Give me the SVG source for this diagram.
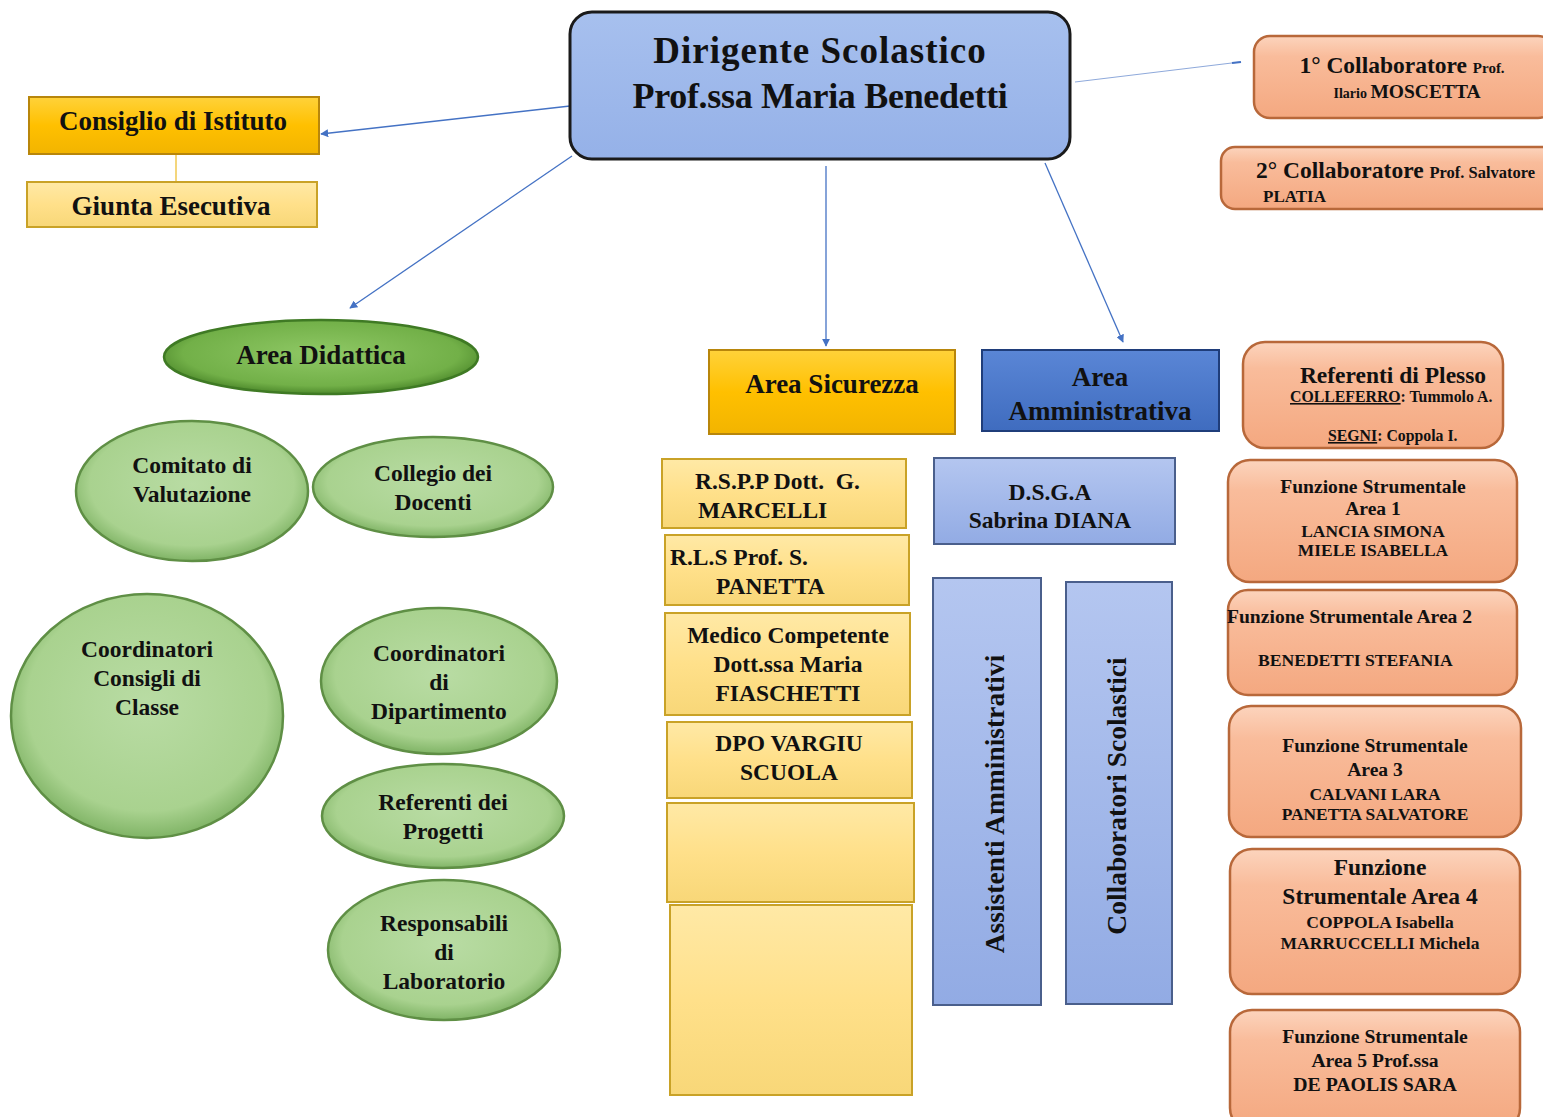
<svg xmlns="http://www.w3.org/2000/svg" width="1543" height="1117" viewBox="0 0 1543 1117" font-family="'Liberation Serif', 'DejaVu Serif', serif" font-weight="bold">
<defs>
<style>
text{font-family:'Liberation Serif','DejaVu Serif',serif;font-weight:700;fill:#111;}
.c{text-anchor:middle;}
.conn{stroke:#4472c4;stroke-width:1.3;fill:none;marker-end:url(#ah);}
.gold{fill:url(#gGold);stroke:#b8860b;stroke-width:2;}
.lgold{fill:url(#gLGold);stroke:#c9a227;stroke-width:2;}
.blue{fill:url(#gBlue);stroke:#1f3d7a;stroke-width:2;}
.lblue{fill:url(#gLBlue);stroke:#4a5f8c;stroke-width:2;}
.org{fill:url(#gOrg);stroke:#b8683a;stroke-width:2.5;}
.lgreen{fill:url(#gLGreen);stroke:#5f8f45;stroke-width:2.5;}
.green{fill:url(#gGreen);stroke:#3f7a24;stroke-width:2.5;}
</style>
<marker id="ah" viewBox="0 0 10 10" refX="9" refY="5" markerWidth="8" markerHeight="8" orient="auto" markerUnits="userSpaceOnUse"><path d="M0,0 L10,5 L0,10 z" fill="#4472c4"/></marker>
<linearGradient id="gGold" x1="0" y1="0" x2="0" y2="1"><stop offset="0" stop-color="#ffd23a"/><stop offset="0.5" stop-color="#ffc000"/><stop offset="1" stop-color="#f2b400"/></linearGradient>
<linearGradient id="gLGold" x1="0" y1="0" x2="0" y2="1"><stop offset="0" stop-color="#ffe9a6"/><stop offset="0.5" stop-color="#ffe08a"/><stop offset="1" stop-color="#f8d778"/></linearGradient>
<linearGradient id="gBlue" x1="0" y1="0" x2="0" y2="1"><stop offset="0" stop-color="#5a86d6"/><stop offset="1" stop-color="#3f6cbf"/></linearGradient>
<linearGradient id="gLBlue" x1="0" y1="0" x2="0" y2="1"><stop offset="0" stop-color="#b4c6f0"/><stop offset="1" stop-color="#92abe4"/></linearGradient>
<linearGradient id="gDir" x1="0" y1="0" x2="0" y2="1"><stop offset="0" stop-color="#a7c0ee"/><stop offset="1" stop-color="#95b1e8"/></linearGradient>
<linearGradient id="gOrg" x1="0" y1="0" x2="0" y2="1"><stop offset="0" stop-color="#fcd4bd"/><stop offset="0.25" stop-color="#f9bc9b"/><stop offset="1" stop-color="#f4a880"/></linearGradient>
<radialGradient id="gLGreen" cx="0.5" cy="0.45" r="0.55"><stop offset="0" stop-color="#b9dca4"/><stop offset="0.8" stop-color="#a9d28f"/><stop offset="1" stop-color="#80b466"/></radialGradient>
<radialGradient id="gGreen" cx="0.5" cy="0.45" r="0.55"><stop offset="0" stop-color="#8fc865"/><stop offset="0.8" stop-color="#72b048"/><stop offset="1" stop-color="#4e8a2c"/></radialGradient>
</defs>
<rect width="1543" height="1117" fill="#ffffff"/>

<g id="connectors">
<path class="conn" d="M570,106 L321,134"/>
<path class="conn" d="M572,156 L350,308"/>
<path class="conn" d="M826,166 L826,346"/>
<path class="conn" d="M1045,163 L1123,342"/>
<path d="M1075,82 L1240,62" stroke="#8ea9db" stroke-width="1" fill="none"/>
<path d="M1232,63 L1241,62" stroke="#4472c4" stroke-width="2"/>
<path d="M176,154 L176,182" stroke="#f0c850" stroke-width="1.5"/>
</g>

<g id="dirigente">
<rect x="570" y="12" width="500" height="147" rx="22" fill="url(#gDir)" stroke="#1a1a1a" stroke-width="3"/>
<text class="c" x="820" y="63" font-size="37" letter-spacing="1">Dirigente Scolastico</text>
<text class="c" x="820" y="108" font-size="36" letter-spacing="-0.3">Prof.ssa Maria Benedetti</text>
</g>

<g id="consiglio">
<rect class="gold" x="29" y="97" width="290" height="57"/>
<text class="c" x="173" y="130" font-size="27">Consiglio di Istituto</text>
</g>
<g id="giunta">
<rect class="lgold" x="27" y="182" width="290" height="45"/>
<text class="c" x="171" y="215" font-size="27">Giunta Esecutiva</text>
</g>

<g id="area-didattica">
<ellipse class="green" cx="321" cy="357" rx="157" ry="37"/>
<text class="c" x="321" y="364" font-size="27">Area Didattica</text>
</g>
<g id="comitato">
<ellipse class="lgreen" cx="192" cy="491" rx="116" ry="70"/>
<text class="c" x="192" y="473" font-size="23.5">Comitato di</text>
<text class="c" x="192" y="502" font-size="23.5">Valutazione</text>
</g>
<g id="collegio">
<ellipse class="lgreen" cx="433" cy="487" rx="120" ry="50"/>
<text class="c" x="433" y="481" font-size="23.5">Collegio dei</text>
<text class="c" x="433" y="510" font-size="23.5">Docenti</text>
</g>
<g id="coord-classe">
<ellipse class="lgreen" cx="147" cy="716" rx="136" ry="122"/>
<text class="c" x="147" y="657" font-size="23.5">Coordinatori</text>
<text class="c" x="147" y="686" font-size="23.5">Consigli di</text>
<text class="c" x="147" y="715" font-size="23.5">Classe</text>
</g>
<g id="coord-dip">
<ellipse class="lgreen" cx="439" cy="681" rx="118" ry="73"/>
<text class="c" x="439" y="661" font-size="23.5">Coordinatori</text>
<text class="c" x="439" y="690" font-size="23.5">di</text>
<text class="c" x="439" y="719" font-size="23.5">Dipartimento</text>
</g>
<g id="referenti-progetti">
<ellipse class="lgreen" cx="443" cy="816" rx="121" ry="52"/>
<text class="c" x="443" y="810" font-size="23.5">Referenti dei</text>
<text class="c" x="443" y="839" font-size="23.5">Progetti</text>
</g>
<g id="responsabili">
<ellipse class="lgreen" cx="444" cy="950" rx="116" ry="70"/>
<text class="c" x="444" y="931" font-size="23.5">Responsabili</text>
<text class="c" x="444" y="960" font-size="23.5">di</text>
<text class="c" x="444" y="989" font-size="23.5">Laboratorio</text>
</g>

<g id="area-sicurezza">
<rect class="gold" x="709" y="350" width="246" height="84"/>
<text class="c" x="832" y="393" font-size="27">Area Sicurezza</text>
</g>
<g id="rspp">
<rect class="lgold" x="662" y="459" width="244" height="69"/>
<text x="695" y="489" font-size="23.5" xml:space="preserve">R.S.P.P Dott.  G.</text>
<text x="698" y="518" font-size="23.5">MARCELLI</text>
</g>
<g id="rls">
<rect class="lgold" x="665" y="535" width="244" height="70"/>
<text x="670" y="565" font-size="23.5">R.L.S Prof. S.</text>
<text x="716" y="594" font-size="23.5">PANETTA</text>
</g>
<g id="medico">
<rect class="lgold" x="665" y="613" width="245" height="102"/>
<text class="c" x="788" y="643" font-size="23.5">Medico Competente</text>
<text class="c" x="788" y="672" font-size="23.5">Dott.ssa Maria</text>
<text class="c" x="788" y="701" font-size="23.5">FIASCHETTI</text>
</g>
<g id="dpo">
<rect class="lgold" x="667" y="722" width="245" height="76"/>
<text class="c" x="789" y="751" font-size="23.5">DPO VARGIU</text>
<text class="c" x="789" y="780" font-size="23.5">SCUOLA</text>
</g>
<g id="empty-1">
<rect class="lgold" x="667" y="803" width="247" height="99"/>
</g>
<g id="empty-2">
<rect class="lgold" x="670" y="905" width="242" height="190"/>
</g>

<g id="area-amministrativa">
<rect class="blue" x="982" y="350" width="237" height="81"/>
<text class="c" x="1100" y="386" font-size="27">Area</text>
<text class="c" x="1100" y="420" font-size="27">Amministrativa</text>
</g>
<g id="dsga">
<rect class="lblue" x="934" y="458" width="241" height="86"/>
<text class="c" x="1050" y="500" font-size="23.5">D.S.G.A</text>
<text class="c" x="1050" y="528" font-size="23.5">Sabrina DIANA</text>
</g>
<g id="assistenti">
<rect class="lblue" x="933" y="578" width="108" height="427"/>
<text class="c" transform="translate(1004,804) rotate(-90)" x="0" y="0" font-size="27.5">Assistenti Amministrativi</text>
</g>
<g id="collaboratori-scolastici">
<rect class="lblue" x="1066" y="582" width="106" height="422"/>
<text class="c" transform="translate(1126,796) rotate(-90)" x="0" y="0" font-size="27.5">Collaboratori Scolastici</text>
</g>

<g id="collab1">
<rect class="org" x="1254" y="36" width="300" height="82" rx="16"/>
<text class="c" x="1402" y="73"><tspan font-size="23.5">1° Collaboratore </tspan><tspan font-size="15">Prof.</tspan></text>
<text class="c" x="1407" y="98"><tspan font-size="14">Ilario </tspan><tspan font-size="19.5">MOSCETTA</tspan></text>
</g>
<g id="collab2">
<rect class="org" x="1221" y="147" width="335" height="62" rx="14"/>
<text x="1256" y="178"><tspan font-size="23.5">2° Collaboratore </tspan><tspan font-size="16.5">Prof. Salvatore</tspan></text>
<text x="1263" y="202" font-size="17">PLATIA</text>
</g>
<g id="referenti-plesso">
<rect class="org" x="1243" y="342" width="260" height="106" rx="22"/>
<text class="c" x="1393" y="383" font-size="23.5">Referenti di Plesso</text>
<text x="1290" y="402" font-size="15.8"><tspan text-decoration="underline">COLLEFERRO</tspan>: Tummolo A.</text>
<text x="1328" y="441" font-size="15.8"><tspan text-decoration="underline">SEGNI</tspan>: Coppola I.</text>
</g>
<g id="fs1">
<rect class="org" x="1228" y="460" width="289" height="122" rx="22"/>
<text class="c" x="1373" y="493" font-size="19.6">Funzione Strumentale</text>
<text class="c" x="1373" y="515" font-size="19.6">Area 1</text>
<text class="c" x="1373" y="537" font-size="17.4">LANCIA SIMONA</text>
<text class="c" x="1373" y="556" font-size="17.4">MIELE ISABELLA</text>
</g>
<g id="fs2">
<rect class="org" x="1228" y="590" width="289" height="105" rx="20"/>
<text x="1227" y="623" font-size="19.6">Funzione Strumentale Area 2</text>
<text x="1258" y="666" font-size="17.6">BENEDETTI STEFANIA</text>
</g>
<g id="fs3">
<rect class="org" x="1229" y="706" width="292" height="131" rx="22"/>
<text class="c" x="1375" y="752" font-size="19.6">Funzione Strumentale</text>
<text class="c" x="1375" y="776" font-size="19.6">Area 3</text>
<text class="c" x="1375" y="800" font-size="17.4">CALVANI LARA</text>
<text class="c" x="1375" y="820" font-size="17.4">PANETTA SALVATORE</text>
</g>
<g id="fs4">
<rect class="org" x="1230" y="849" width="290" height="145" rx="22"/>
<text class="c" x="1380" y="875" font-size="23.5">Funzione</text>
<text class="c" x="1380" y="904" font-size="23.5">Strumentale Area 4</text>
<text class="c" x="1380" y="928" font-size="17.5">COPPOLA Isabella</text>
<text class="c" x="1380" y="949" font-size="17.5">MARRUCCELLI Michela</text>
</g>
<g id="fs5">
<rect class="org" x="1230" y="1010" width="290" height="120" rx="22"/>
<text class="c" x="1375" y="1043" font-size="19.6">Funzione Strumentale</text>
<text class="c" x="1375" y="1067" font-size="19.6">Area 5 Prof.ssa</text>
<text class="c" x="1375" y="1091" font-size="19.8">DE PAOLIS SARA</text>
</g>
</svg>
